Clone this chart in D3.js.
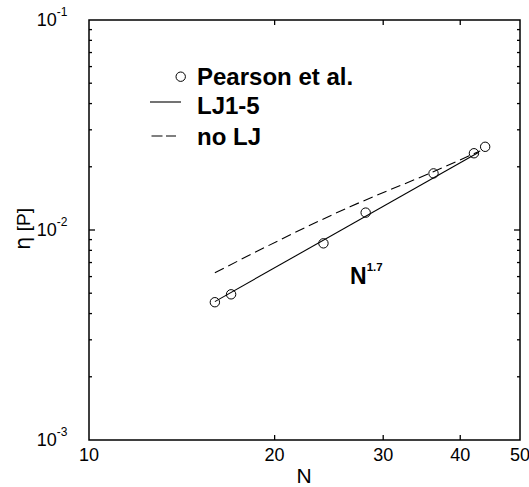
<!DOCTYPE html>
<meta charset="utf-8">
<head>
  <title>Viscosity vs N</title>
</head>

<style>
body { margin: 0; background: white; }
text { font-family: "Liberation Sans", Arial, Helvetica, sans-serif; fill: black; }
.frame { fill: none; stroke: black; stroke-width: 1.5; }
.tick { stroke: black; stroke-width: 1.3; }
.fit { fill: none; stroke: black; stroke-width: 1.1; }
.dot { fill: none; stroke: black; stroke-width: 1; }
</style>

<body>
  <svg width="529" height="487"></svg>

  <script src="https://cdn.jsdelivr.net/npm/d3@7"></script>
  <script>
// Pearson et al. measurements
var pearsonN   = [16, 17, 24, 28.1, 36.2, 42.1, 43.9];
var pearsonEta = [4.53e-3, 4.94e-3, 8.64e-3, 1.21e-2, 1.86e-2, 2.32e-2, 2.49e-2];

// LJ1-5 fit (power law ~ N^1.7)
var ljN   = [16, 42.8];
var ljEta = [4.56e-3, 2.34e-2];

// no LJ curve
var noLjN   = [16, 26.5, 36.1, 43.1];
var noLjEta = [6.26e-3, 1.29e-2, 1.89e-2, 2.38e-2];

var xTicks = [10, 20, 30, 40, 50];
var xInner = [20, 30, 40];
var yDecades = [1e-3, 1e-2, 1e-1];
var yExp = ["-3", "-2", "-1"];

var svg = d3.select("svg");

var x = d3.scaleLog().domain([10, 50]).range([89, 520]);
var y = d3.scaleLog().domain([1e-3, 1e-1]).range([440, 20]);

// frame
svg.append("rect").attr("class", "frame")
  .attr("x", x(10)).attr("y", y(1e-1))
  .attr("width", x(50) - x(10)).attr("height", y(1e-3) - y(1e-1));

// y ticks, left and right, inward
var yt = y.ticks();
yt.forEach(function(v) {
  var major = yDecades.indexOf(v) >= 0;
  if (v === 1e-3 || v === 1e-1) return;
  var len = major ? 6 : 3;
  svg.append("line").attr("class", "tick")
    .attr("x1", x(10)).attr("x2", x(10) + len).attr("y1", y(v)).attr("y2", y(v));
  svg.append("line").attr("class", "tick")
    .attr("x1", x(50)).attr("x2", x(50) - len).attr("y1", y(v)).attr("y2", y(v));
});

// x ticks top and bottom
xInner.forEach(function(v) {
  svg.append("line").attr("class", "tick")
    .attr("x1", x(v)).attr("x2", x(v)).attr("y1", y(1e-3)).attr("y2", y(1e-3) - 5);
  svg.append("line").attr("class", "tick")
    .attr("x1", x(v)).attr("x2", x(v)).attr("y1", y(1e-1)).attr("y2", y(1e-1) + 5);
});

// x tick labels
svg.selectAll(".xlab").data(xTicks).enter().append("text")
  .attr("x", function(d) { return x(d); })
  .attr("y", 461)
  .attr("text-anchor", "middle")
  .attr("font-size", 18)
  .text(function(d) { return d; });

// y tick labels
yDecades.forEach(function(v, i) {
  var t = svg.append("text")
    .attr("x", 67.5).attr("y", y(v) + 6)
    .attr("text-anchor", "end")
    .attr("font-size", 18);
  t.append("tspan").text("10");
  t.append("tspan").attr("font-size", 12).attr("dy", -10).text(yExp[i]);
});

// axis titles
svg.append("text")
  .attr("x", 304).attr("y", 483)
  .attr("text-anchor", "middle")
  .attr("font-size", 21)
  .text("N");

var yl = svg.append("text")
  .attr("transform", "translate(30,229) rotate(-90)")
  .attr("text-anchor", "middle")
  .attr("font-size", 19);
yl.append("tspan").attr("font-family", "DejaVu Sans").attr("font-size", 21).text("\u03b7");
yl.append("tspan").text(" [P]");

// curves
var line = d3.line()
  .x(function(d) { return x(d[0]); })
  .y(function(d) { return y(d[1]); });

svg.append("path").attr("class", "fit")
  .attr("d", line(d3.zip(ljN, ljEta)));

svg.append("path").attr("class", "fit")
  .attr("stroke-dasharray", "10,5")
  .attr("d", d3.line().curve(d3.curveMonotoneX)
    .x(function(d) { return x(d[0]); })
    .y(function(d) { return y(d[1]); })(d3.zip(noLjN, noLjEta)));

svg.selectAll(".dot").data(d3.zip(pearsonN, pearsonEta)).enter().append("circle")
  .attr("class", "dot")
  .attr("cx", function(d) { return x(d[0]); })
  .attr("cy", function(d) { return y(d[1]); })
  .attr("r", 4.7);

// N^1.7 label
var pl = svg.append("text")
  .attr("x", 350).attr("y", 283.5)
  .attr("font-size", 23).attr("font-weight", "bold");
pl.append("tspan").text("N");
pl.append("tspan").attr("font-size", 11.5).attr("dy", -13).text("1.7");

// legend
svg.append("circle").attr("class", "dot")
  .attr("cx", 180.7).attr("cy", 76.7).attr("r", 4.7);
svg.append("line").attr("class", "fit")
  .attr("x1", 150).attr("x2", 181).attr("y1", 102).attr("y2", 102);
svg.append("line").attr("class", "fit")
  .attr("stroke-dasharray", "11,3.5")
  .attr("x1", 151.5).attr("x2", 176).attr("y1", 136).attr("y2", 136);

var legendLabels = ["Pearson et al.", "LJ1-5", "no LJ"];
var legendY = [85, 113.5, 145];
legendLabels.forEach(function(s, i) {
  svg.append("text")
    .attr("x", 197).attr("y", legendY[i])
    .attr("font-size", 24).attr("font-weight", "bold")
    .text(s);
});
  </script>
</body>
</html>
